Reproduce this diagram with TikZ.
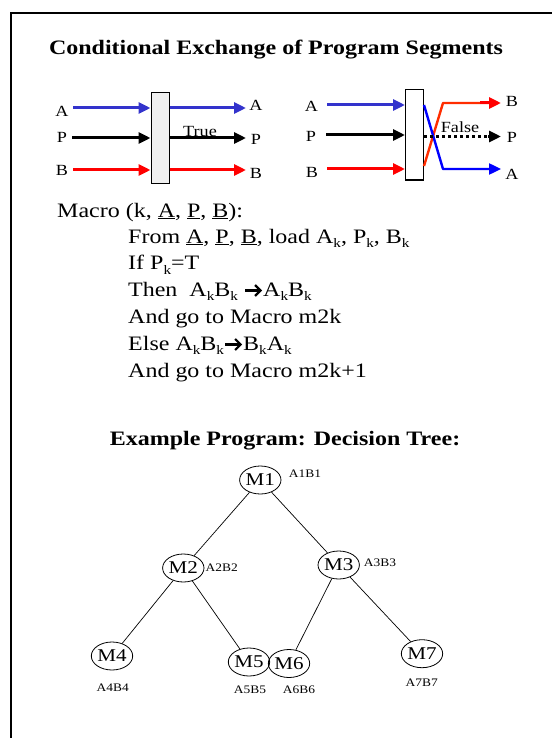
\documentclass[tikz,border=0pt]{standalone}
\usepackage{fontspec}
\setmainfont{Liberation Serif}[FakeStretch=1.17]
\usetikzlibrary{arrows.meta,shapes.geometric}

\definecolor{inblue}{RGB}{51,51,204}
\definecolor{xblue}{RGB}{0,0,255}
\definecolor{xred}{RGB}{255,0,0}
\definecolor{xorange}{RGB}{255,45,0}

% thick arrow with an open head, set on the text line
\newcommand\arr{\tikz[baseline=-5.5pt,x=1pt,y=1pt]\draw[line width=2.2pt,line cap=butt,-{Straight Barb[length=5.5pt,width=11pt]}] (0,0)--(17,0);}
% small, low subscript
\newcommand\sub[1]{\raisebox{-4.5pt}{\fontsize{13}{13}\selectfont #1}}

\begin{document}
\begin{tikzpicture}[x=1pt,y=-1pt,
  tip/.style={-{Triangle[length=12pt,width=11pt]}},
  flow/.style={line width=3pt,tip},
  gate/.style={draw,line width=1pt,minimum width=18pt,minimum height=90pt,inner sep=0pt},
  sig/.style={font=\fontsize{15.5}{15.5}\selectfont,inner sep=0pt},
  heading/.style={font=\fontsize{20.5}{24}\selectfont\bfseries,anchor=base,inner sep=0pt},
  body/.style={font=\fontsize{20.5}{24}\selectfont,anchor=base west,inner sep=0pt},
  mnode/.style={draw,ellipse,line width=0.8pt,minimum width=33pt,minimum height=28pt,inner sep=0pt,font=\fontsize{18}{18}\selectfont},
  tag/.style={font=\fontsize{11.5}{12}\selectfont,inner sep=0pt},
  edge/.style={line width=0.7pt}
]
\useasboundingbox (0,0) rectangle (552,738);
% page frame
\draw[line width=1.5pt] (11,738) -- (11,13) -- (552,13);

\node[heading] (title) at (276,55) {Conditional Exchange of Program Segments};

% ---- exchange when P is true ----
\node[gate,fill=gray!12] (g1) at (160,138) {};
\coordinate (a1in) at (73,108);
\coordinate (p1in) at (72,138);
\coordinate (b1in) at (73,170);
\coordinate (a1out) at (246,108);
\coordinate (p1out) at (246,138);
\coordinate (b1out) at (246,170);
\draw[flow,inblue] (a1in) -- (a1in -| g1.west);
\draw[flow,black] (p1in) -- (p1in -| g1.west);
\draw[flow,xred] (b1in) -- (b1in -| g1.west);
\draw[flow,inblue] (a1out -| g1.east) -- (a1out);
\draw[flow,black] (p1out -| g1.east) -- (p1out);
\draw[flow,xred] (b1out -| g1.east) -- (b1out);
\node[sig] (la1) at (62,111) {A};
\node[sig] (lp1) at (62,137.5) {P};
\node[sig] (lb1) at (62,170) {B};
\node[sig] (ra1) at (256,105.5) {A};
\node[sig] (rp1) at (256,139) {P};
\node[sig] (rb1) at (256,173) {B};
\node[sig,anchor=base] (true) at (200,136.5) {True};

% ---- exchange when P is false ----
\node[gate,fill=white] (g2) at (414.5,135) {};
\coordinate (a2in) at (327,105);
\coordinate (p2in) at (326,135);
\coordinate (b2in) at (327,169);
\coordinate (a2out) at (501,169);
\coordinate (p2out) at (501,136.5);
\coordinate (b2out) at (501,103);
\coordinate (xa) at (443,169);
\coordinate (xb) at (443,103);
\draw[flow,inblue] (a2in) -- (a2in -| g2.west);
\draw[flow,black] (p2in) -- (p2in -| g2.west);
\draw[flow,xred] (b2in) -- (b2in -| g2.west);
\draw[line width=2.4pt,xorange,line join=round] (g2.east |- 0,166) -- (xb) -- (b2out -| 490,0);
\draw[flow,xred] (xb -| 480,0) -- (b2out);
\draw[line width=2.4pt,xblue,line join=round,tip] (g2.east |- a2in) -- (xa) -- (a2out);
\draw[line width=3pt,black,dash pattern=on 3pt off 3pt] (p2out -| g2.east) -- (p2out -| 492,0);
\draw[flow,black] (p2out -| 488,0) -- (p2out);
\node[sig] (la2) at (311.5,106.5) {A};
\node[sig] (lp2) at (311,136) {P};
\node[sig] (lb2) at (312,172) {B};
\node[sig] (rb2) at (512,101) {B};
\node[sig] (rp2) at (512,137.5) {P};
\node[sig] (ra2) at (512,174.5) {A};
\node[sig,anchor=base] (false) at (460,132.5) {False};

% ---- macro description ----
\node[body] (m0) at (57,217) {Macro (k, \underline{A}, \underline{P}, \underline{B}):};
\node[body] (m1) at (128,243) {From \underline{A}, \underline{P}, \underline{B}, load A\sub{k}, P\sub{k}, B\sub{k}};
\node[body] (m2) at (128,269.5) {If P\sub{k}=T};
\node[body] (m3) at (128,296) {Then\ \ A\sub{k}B\sub{k} \arr A\sub{k}B\sub{k}};
\node[body] (m4) at (128,323) {And go to Macro m2k};
\node[body] (m5) at (128,350) {Else A\sub{k}B\sub{k}\arr B\sub{k}A\sub{k}};
\node[body] (m6) at (128,377) {And go to Macro m2k+1};

% ---- decision tree ----
\node[heading] (sub) at (285,445) {Example Program: Decision Tree:};
\node[mnode] (M1) at (260.3,480) {M1};
\node[mnode] (M2) at (183.3,568) {M2};
\node[mnode] (M3) at (338.7,565) {M3};
\node[mnode] (M4) at (112,656) {M4};
\node[mnode] (M5) at (249,662) {M5};
\node[mnode] (M6) at (289,663.5) {M6};
\node[mnode] (M7) at (422,653.7) {M7};
\node[tag] (t1) at (305,474) {A1B1};
\node[tag] (t2) at (221.7,568) {A2B2};
\node[tag] (t3) at (380,563) {A3B3};
\node[tag] (t4) at (112.7,688) {A4B4};
\node[tag] (t5) at (250,690) {A5B5};
\node[tag] (t6) at (299,690) {A6B6};
\node[tag] (t7) at (421.7,682.7) {A7B7};
\draw[edge] (M1) -- (M2);
\draw[edge] (M1) -- (M3);
\draw[edge] (M2) -- (M4);
\draw[edge] (M2) -- (M5);
\draw[edge] (M3) -- (M6);
\draw[edge] (M3) -- (M7);
\end{tikzpicture}
\end{document}
